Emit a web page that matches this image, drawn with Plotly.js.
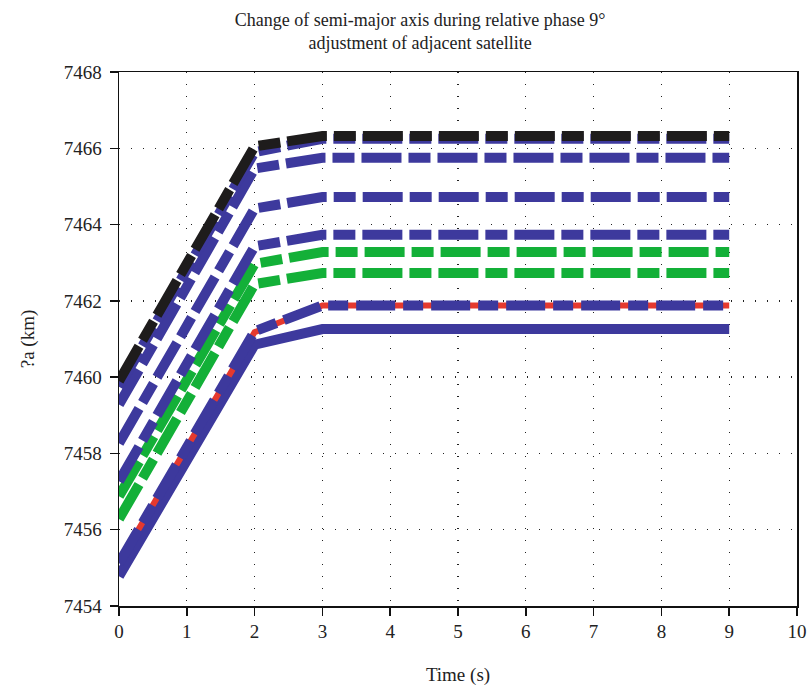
<!DOCTYPE html>
<html>
<head>
<meta charset="utf-8">
<script src="https://cdn.plot.ly/plotly-3.0.1.min.js"></script>
<style>html,body{margin:0;padding:0;background:#fff;}#chart{width:808px;height:690px;}</style>
</head>
<body>
<div id="chart"></div>
<script>
// Time points (s)
var time = [0, 2, 3, 4, 5, 6, 7, 8, 9];

// Semi-major axis series (km)
var blackSeries  = [7459.90, 7466.05, 7466.32, 7466.32, 7466.32, 7466.32, 7466.32, 7466.32, 7466.32];
var blueUnder    = [7459.75, 7465.90, 7466.25, 7466.25, 7466.25, 7466.25, 7466.25, 7466.25, 7466.25];
var blueA        = [7459.28, 7465.47, 7465.75, 7465.75, 7465.75, 7465.75, 7465.75, 7465.75, 7465.75];
var blueB        = [7458.27, 7464.42, 7464.72, 7464.72, 7464.72, 7464.72, 7464.72, 7464.72, 7464.72];
var blueC        = [7457.27, 7463.43, 7463.73, 7463.73, 7463.73, 7463.73, 7463.73, 7463.73, 7463.73];
var greenA       = [7456.88, 7462.97, 7463.28, 7463.28, 7463.28, 7463.28, 7463.28, 7463.28, 7463.28];
var greenB       = [7456.28, 7462.44, 7462.73, 7462.73, 7462.73, 7462.73, 7462.73, 7462.73, 7462.73];
var redSeries    = [7455.14, 7461.18, 7461.88, 7461.88, 7461.88, 7461.88, 7461.88, 7461.88, 7461.88];
var blueD        = [7455.12, 7461.20, 7461.88, 7461.88, 7461.88, 7461.88, 7461.88, 7461.88, 7461.88];
var blueSolid    = [7454.78, 7460.85, 7461.26, 7461.26, 7461.26, 7461.26, 7461.26, 7461.26, 7461.26];

var xTicks = [0, 1, 2, 3, 4, 5, 6, 7, 8, 9, 10];
var yTicks = [7454, 7456, 7458, 7460, 7462, 7464, 7466, 7468];

var BLUE = '#3d399d', GREEN = '#13b038', BLACK = '#1e1c1c', RED = '#e5392e';
var DASH = '40px,7px,22px,7px';
var DASH2 = '39px,8px,20px,8px';
var W = 10;

function tr(y, color, dash, width) {
  return {x: time, y: y, type: 'scatter', mode: 'lines', showlegend: false, hoverinfo: 'skip',
          line: {color: color, width: width || W, dash: dash}};
}

var data = [
  tr(blueSolid, BLUE, 'solid'),
  tr(redSeries, RED, 'solid', 6),
  tr(blueD, BLUE, DASH2),
  tr(greenB, GREEN, DASH),
  tr(greenA, GREEN, DASH),
  tr(blueC, BLUE, DASH),
  tr(blueB, BLUE, DASH),
  tr(blueA, BLUE, DASH),
  tr(blueUnder, BLUE, DASH),
  tr(blackSeries, BLACK, DASH)
];

var serif = 'Liberation Serif, Times New Roman, serif';
var TXT = '#222';
layout = {
  width: 808, height: 690,
  margin: {l: 119, r: 11, t: 72, b: 84},
  paper_bgcolor: '#fff', plot_bgcolor: '#fff',
  font: {family: serif, color: TXT, size: 19},
  title: {text: 'Change of semi-major axis during relative phase 9°<br>adjustment of adjacent satellite',
          font: {family: serif, size: 18, color: TXT},
          xref: 'container', x: 0.52, xanchor: 'center', yref: 'container', y: 0.963, yanchor: 'middle'},
  xaxis: {range: [0, 10], tickvals: xTicks, ticktext: xTicks.map(String),
          showline: true, mirror: true, linecolor: '#111', linewidth: 1.5,
          ticks: 'outside', ticklen: 8, tickwidth: 1.5, tickcolor: '#111',
          showgrid: true, gridcolor: '#222', gridwidth: 1.3, griddash: '1.3px,10.7px',
          zeroline: false, tickfont: {family: serif, size: 19, color: TXT},
          title: {text: 'Time (s)', font: {family: serif, size: 19, color: TXT}, standoff: 26}},
  yaxis: {range: [7454, 7468], tickvals: yTicks, ticktext: yTicks.map(String),
          showline: true, mirror: true, linecolor: '#111', linewidth: 1.5,
          ticks: 'outside', ticklen: 8, tickwidth: 1.5, tickcolor: '#111', ticklabelstandoff: 4,
          showgrid: true, gridcolor: '#222', gridwidth: 1.3, griddash: '1.3px,10.7px',
          zeroline: false, tickfont: {family: serif, size: 19, color: TXT},
          title: {text: '?a (km)', font: {family: serif, size: 19, color: TXT}, standoff: 24}}
};

Plotly.newPlot('chart', data, layout, {staticPlot: true});
</script>
</body>
</html>
